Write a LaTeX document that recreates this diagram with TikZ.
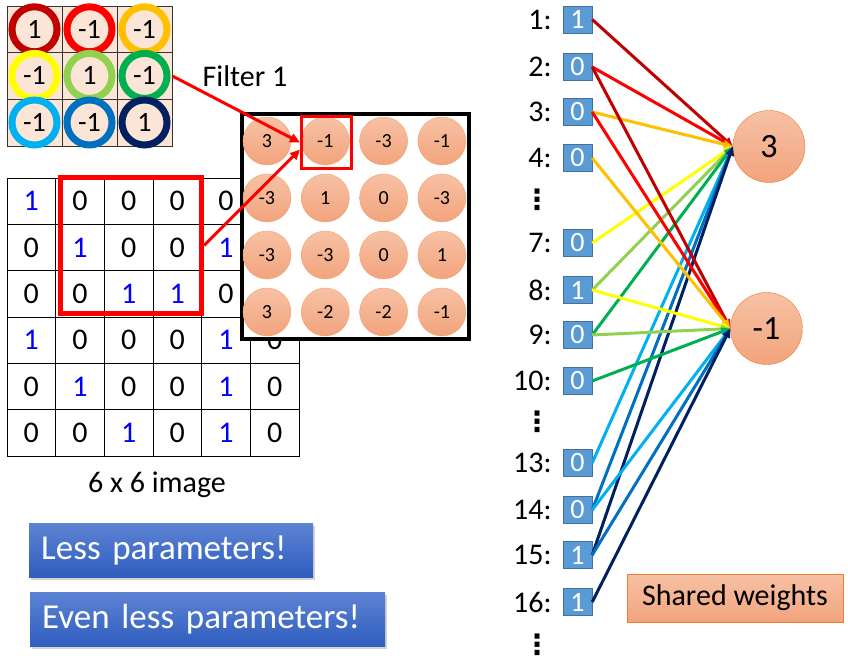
\documentclass[tikz,border=0pt]{standalone}
\usepackage{fontspec}
\setmainfont{Carlito}
\newfontfamily\dotsfont{DejaVu Sans}
\usepackage{tikz}
\usetikzlibrary{arrows.meta,positioning,shadows,calc}

\definecolor{cdred}{RGB}{192,0,0}
\definecolor{cred}{RGB}{255,0,0}
\definecolor{corange}{RGB}{255,192,0}
\definecolor{cyellow}{RGB}{255,255,0}
\definecolor{clgreen}{RGB}{146,208,80}
\definecolor{cgreen}{RGB}{0,176,80}
\definecolor{clblue}{RGB}{0,176,240}
\definecolor{cblue}{RGB}{0,112,192}
\definecolor{cnavy}{RGB}{0,32,96}
\definecolor{peach}{RGB}{251,229,214}
\definecolor{salmontop}{RGB}{247,193,165}
\definecolor{salmonbot}{RGB}{242,164,124}
\definecolor{salmonline}{RGB}{237,125,49}
\definecolor{boxblue}{RGB}{91,155,213}
\definecolor{boxline}{RGB}{65,113,156}
\definecolor{btntop}{RGB}{93,131,212}
\definecolor{btnbot}{RGB}{47,94,190}

\newcommand{\fsz}[1]{\fontsize{#1}{#1}\selectfont}

\tikzset{
  fcell/.style={draw=black!80, fill=peach, minimum width=55pt, minimum height=46.6pt, inner sep=0pt},
  ring/.style={circle, draw=#1, line width=7pt, minimum size=45pt, inner sep=0pt, font=\fsz{28}},
  pix/.style={draw, minimum width=48.67pt, minimum height=46.33pt, inner sep=0pt, font=\fsz{30}},
  fmc/.style={circle, draw=salmonline!70, top color=salmontop, bottom color=salmonbot, minimum size=48pt, inner sep=0pt, font=\fsz{20}},
  outn/.style={circle, draw=salmonline, top color=salmontop, bottom color=salmonbot, minimum size=72pt, inner sep=0pt, font=\fsz{34}},
  sqbox/.style={draw=boxline, fill=boxblue, text=white, minimum width=29pt, minimum height=27pt, inner sep=0pt, font=\fsz{28}},
  idx/.style={inner sep=0pt, font=\fsz{30}},
  vdts/.style={inner sep=0pt, font=\dotsfont\bfseries\fsz{28}},
  redarrow/.style={red, line width=3pt, -{Triangle[length=10pt,width=9pt]}},
  wire/.style={line width=3pt, -{Triangle[length=9pt,width=8pt]}},
  btn/.style={top color=btntop, bottom color=btnbot, text=white, minimum height=54pt, inner xsep=12pt, align=left, font=\fsz{35},
    drop shadow={shadow xshift=2pt, shadow yshift=-3pt, opacity=0.35}},
}

\begin{document}
\begin{tikzpicture}[x=1pt, y=-1pt]
  \useasboundingbox (0,0) rectangle (848,663);

  % Filter 1
  \foreach \r in {1,2,3}
    \foreach \c in {1,2,3}
      \node[fcell] (f-\r-\c) at ({34.5+55*(\c-1)},{29.3+46.6*(\r-1)}) {};
  \foreach \row [count=\r] in {{1/cdred,-1/cred,-1/corange},{-1/cyellow,1/clgreen,-1/cgreen},{-1/clblue,-1/cblue,1/cnavy}}
    \foreach \v/\col [count=\c] in \row
      \node[ring=\col] (r-\r-\c) at ({34.5+55*(\c-1)},{29.3+46.6*(\r-1)}) {\v};
  \node[font=\fsz{30}] (ftitle) at (245,76) {Filter 1};

  % 6 x 6 image (cells hidden under the feature map left blank)
  \foreach \row [count=\r] in {{1,0,0,0,0,},{0,1,0,0,1,},{0,0,1,1,0,},{1,0,0,0,1,0},{0,1,0,0,1,0},{0,0,1,0,1,0}}
    \foreach \v [count=\c] in \row {
      \def\pixcol{black}
      \ifx\v\empty\else\ifnum\v=1 \def\pixcol{blue}\fi\fi
      \node[pix, text=\pixcol] (p-\r-\c) at ({31.33+48.67*(\c-1)},{201.2+46.33*(\r-1)}) {\v};
    }
  \node[draw=red, line width=5pt, minimum width=141pt, minimum height=136pt, inner sep=0pt] (win) at (131,245.5) {};
  \node[font=\fsz{30}] (imgtitle) at (157,485) {6 x 6 image};

  % feature map
  \node[draw, line width=4pt, fill=white, minimum width=227pt, minimum height=225pt, inner sep=0pt,
    drop shadow={shadow xshift=2pt, shadow yshift=-2pt, opacity=0.4}] (fmap) at (355.5,226.5) {};
  \foreach \row [count=\r] in {{3,-1,-3,-1},{-3,1,0,-3},{-3,-3,0,1},{3,-2,-2,-1}}
    \foreach \v [count=\c] in \row
      \node[fmc] (fm-\r-\c) at ({267+58.3*(\c-1)},{141+57*(\r-1)}) {\v};
  \node[draw=red, line width=3pt, minimum width=50pt, minimum height=52pt, inner sep=0pt] (sel) at (326.5,142.5) {};

  \draw[redarrow] (f-2-3.east) -- (sel.west);
  \draw[redarrow] (win.east) -- (sel.195);

  % buttons
  \node[btn, text width=260pt, anchor=west] (less) at (29,550) {Less parameters!};
  \node[btn, text width=331pt, anchor=west] (evenless) at (30,619) {Even less parameters!};

  % flattened inputs
  \foreach \i/\y/\v in {1/19.5/1, 2/67/0, 3/112/0, 4/158/0, 7/243/0, 8/290/1, 9/335/0, 10/381/0, 13/463/0, 14/510/0, 15/555/1, 16/602/1} {
    \node[sqbox] (sq\i) at (577.5,\y) {\v};
    \node[idx, left=11pt of sq\i] (lb\i) {\i:};
  }
  \node[vdts] (dots1) at (537,200) {⋮};
  \node[vdts] (dots2) at (537,422) {⋮};
  \node[vdts] (dots3) at (537,645) {⋮};

  % outputs
  \node[outn] (o3) at (769,146.5) {3};
  \node[outn] (om1) at (766.5,328.5) {-1};

  \foreach \a/\b/\col in {1/o3/cdred, 2/o3/cred, 3/o3/corange, 7/o3/cyellow, 8/o3/clgreen, 9/o3/cgreen,
      13/o3/clblue, 14/o3/cblue, 15/o3/cnavy, 2/om1/cdred, 3/om1/cred, 4/om1/corange, 8/om1/cyellow,
      9/om1/clgreen, 10/om1/cgreen, 14/om1/clblue, 15/om1/cblue, 16/om1/cnavy}
    \draw[wire, \col] (sq\a.east) -- (\b.west);

  \node[draw=salmonline, top color=salmontop, bottom color=salmonbot, minimum width=216pt, minimum height=48pt,
    inner sep=0pt, font=\fsz{30}] (shared) at (735,598) {Shared weights};
\end{tikzpicture}
\end{document}
